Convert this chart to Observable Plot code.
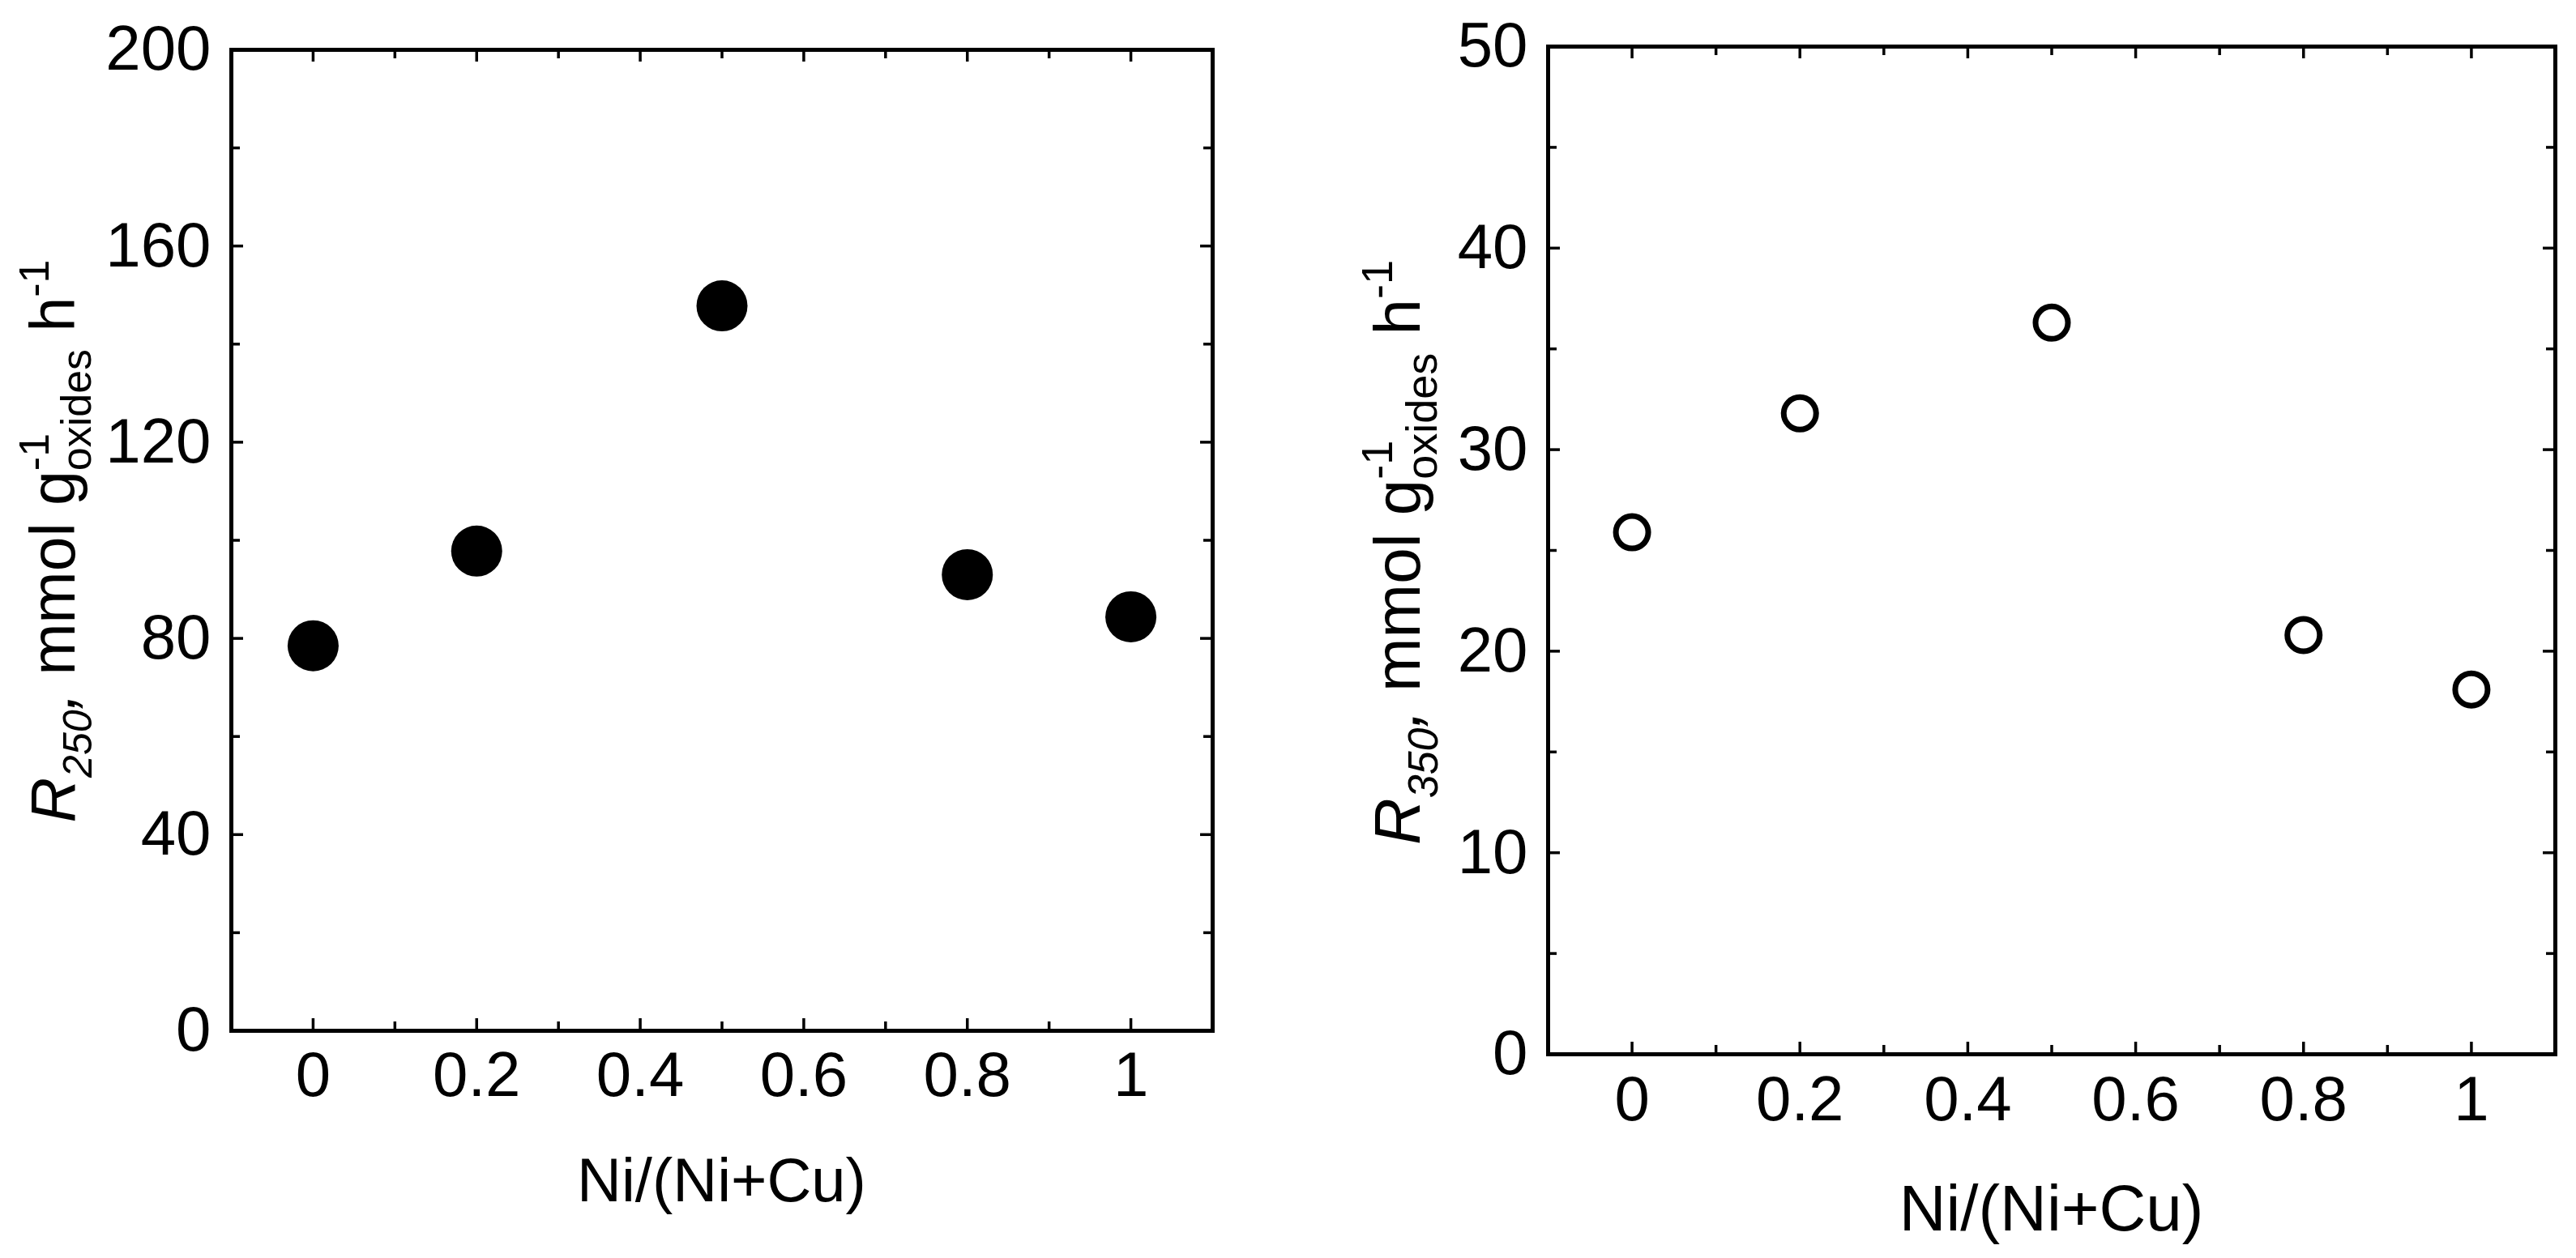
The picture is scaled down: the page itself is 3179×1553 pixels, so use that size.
<!DOCTYPE html>
<html><head><meta charset="utf-8">
<script src="https://cdn.jsdelivr.net/npm/d3@7"></script>
<script src="https://cdn.jsdelivr.net/npm/@observablehq/plot@0.6"></script>
<style>
html,body{margin:0;padding:0;background:#fff;}
#wrap{position:relative;width:3179px;height:1553px;overflow:hidden;background:#fff;}
#left,#right{position:absolute;top:0;}
#left{left:0;} #right{left:1590px;}
</style></head><body><div id="wrap"><div id="left"></div><div id="right"></div></div>
<script>
// ---- data ----
const ratio = [0, 0.2, 0.5, 0.8, 1];
const r250 = [78.5, 97.8, 147.8, 93.0, 84.4];
const r350 = [25.9, 31.8, 36.3, 20.8, 18.1];
const xMajor = [0, 0.2, 0.4, 0.6, 0.8, 1];
const xMinor = [0.1, 0.3, 0.5, 0.7, 0.9];
const yMajorL = [0, 40, 80, 120, 160, 200];
const yMinorL = [20, 60, 100, 140, 180];
const yMajorR = [0, 10, 20, 30, 40, 50];
const yMinorR = [5, 15, 25, 35, 45];
const xTitle = "Ni/(Ni+Cu)";

const FONT = "'Liberation Sans', Arial, Helvetica, sans-serif";

function panel(o) {
  const data = ratio.map((x, i) => ({x, y: o.ys[i]}));
  const innerH = o.height - o.mT - o.mB;
  const innerW = o.width - o.mL - o.mR;
  const MAJ = 15, MIN = 11, TW = 3.5;
  const dots = o.filled
    ? Plot.dot(data, {x: "x", y: "y", r: 31.5, fill: "black", stroke: "none"})
    : Plot.dot(data, {x: "x", y: "y", r: 20, fill: "none", stroke: "black", strokeWidth: 7});
  const svg = Plot.plot({
    width: o.width, height: o.height,
    marginLeft: o.mL, marginRight: o.mR, marginTop: o.mT, marginBottom: o.mB,
    style: {fontFamily: FONT, fontSize: "78px", background: "white", color: "black", overflow: "visible"},
    x: {domain: [-0.1, 1.1], label: null},
    y: {domain: o.yDomain, label: null},
    marks: [
      // bottom ticks (inward)
      Plot.tickX(xMajor, {x: d => d, insetTop: innerH - MAJ, stroke: "black", strokeWidth: TW}),
      Plot.tickX(xMinor, {x: d => d, insetTop: innerH - MIN, stroke: "black", strokeWidth: TW}),
      // top ticks (inward)
      Plot.tickX(xMajor, {x: d => d, insetBottom: innerH - MAJ, stroke: "black", strokeWidth: TW}),
      Plot.tickX(xMinor, {x: d => d, insetBottom: innerH - MIN, stroke: "black", strokeWidth: TW}),
      // left ticks
      Plot.tickY(o.yMajor, {y: d => d, insetRight: innerW - MAJ, stroke: "black", strokeWidth: TW}),
      Plot.tickY(o.yMinor, {y: d => d, insetRight: innerW - MIN, stroke: "black", strokeWidth: TW}),
      // right ticks
      Plot.tickY(o.yMajor, {y: d => d, insetLeft: innerW - MAJ, stroke: "black", strokeWidth: TW}),
      Plot.tickY(o.yMinor, {y: d => d, insetLeft: innerW - MIN, stroke: "black", strokeWidth: TW}),
      Plot.axisX(xMajor, {anchor: "bottom", tickSize: 0, tickPadding: o.xPad, fontSize: 78, label: null, tickFormat: d => String(d)}),
      Plot.axisY(o.yMajor, {anchor: "left", tickSize: 0, tickPadding: 25, fontSize: 78, label: null, tickFormat: d => String(d)}),
      Plot.frame({stroke: "black", strokeWidth: 5}),
      dots
    ]
  });

  const s = d3.select(svg);
  // x title
  s.append("text")
    .attr("x", o.mL + innerW / 2)
    .attr("y", o.height - o.mB + o.xTitleOff)
    .attr("text-anchor", "middle")
    .attr("font-family", FONT)
    .attr("font-size", o.xfs)
    .attr("fill", "black")
    .text(xTitle);

  // y title with sub/superscripts
  const fs = o.yfs, sm = fs * 0.675;
  const t = s.append("text")
    .attr("transform", `translate(${o.yTitleX},${o.yTitleY}) rotate(-90)`)
    .attr("text-anchor", "middle")
    .attr("font-family", FONT)
    .attr("font-size", fs)
    .attr("fill", "black");
  t.append("tspan").attr("font-style", "italic").text("R");
  t.append("tspan").attr("font-style", "italic").attr("font-size", fs * 0.65).attr("dy", fs * 0.27).text(o.sub);
  t.append("tspan").attr("font-style", "italic").attr("dy", -fs * 0.27).text(",");
  t.append("tspan").text("\u00A0mmol g");
  t.append("tspan").attr("font-size", sm).attr("dy", -fs * 0.42).text("-1");
  t.append("tspan").attr("font-size", sm).attr("dy", fs * 0.68).attr("dx", -sm * 0.889).text("oxides");
  t.append("tspan").attr("dy", -fs * 0.26).text("\u00A0h");
  t.append("tspan").attr("font-size", sm).attr("dy", -fs * 0.42).text("-1");
  return svg;
}

document.getElementById("left").appendChild(panel({
  width: 1590, height: 1553, mL: 285, mR: 94, mT: 61, mB: 281,
  yDomain: [0, 200], yMajor: yMajorL, yMinor: yMinorL, ys: r250, filled: true,
  xPad: 25, xTitleOff: 211, xfs: 76, yfs: 77, yTitleX: 92, yTitleY: 668, sub: "250"
}));
document.getElementById("right").appendChild(panel({
  width: 1589, height: 1553, mL: 320, mR: 26, mT: 57, mB: 252,
  yDomain: [0, 50], yMajor: yMajorR, yMinor: yMinorR, ys: r350, filled: false,
  xPad: 26, xTitleOff: 218, xfs: 80, yfs: 80, yTitleX: 162, yTitleY: 682, sub: "350"
}));
</script>
</body></html>
